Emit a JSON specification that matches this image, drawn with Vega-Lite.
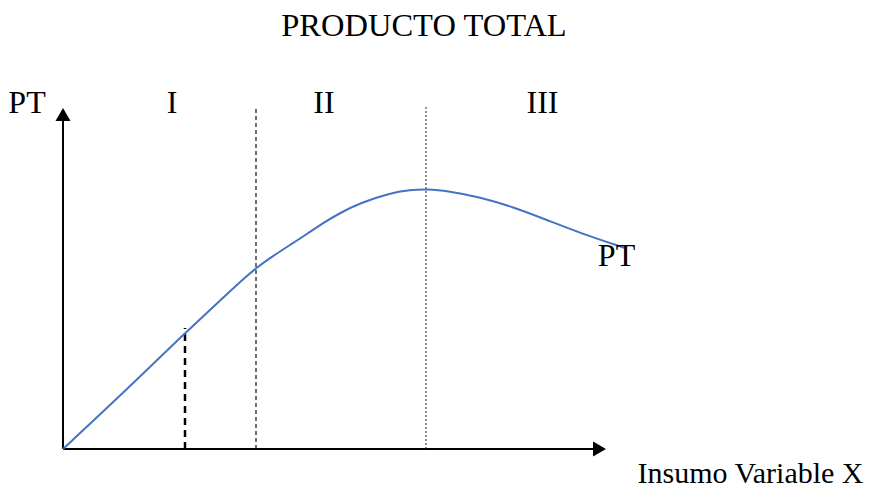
{
  "$schema": "https://vega.github.io/schema/vega-lite/v6.json",
  "width": 882,
  "height": 499,
  "autosize": {"type": "none"},
  "padding": 0,
  "background": "white",
  "config": {"view": {"stroke": null}},
  "encoding": {
    "x": {"field": "x", "type": "quantitative", "scale": {"domain": [-6.3, 81.9], "zero": false, "nice": false}, "axis": null},
    "y": {"field": "y", "type": "quantitative", "scale": {"domain": [-5, 44.9], "zero": false, "nice": false}, "axis": null}
  },
  "layer": [
    {
      "data": {"values": [
        {"x": 0, "y": 0, "x2": 53.65, "y2": 0},
        {"x": 0, "y": 0, "x2": 0, "y2": 33.45}
      ]},
      "mark": {"type": "rule", "color": "black", "strokeWidth": 2},
      "encoding": {"x2": {"field": "x2"}, "y2": {"field": "y2"}}
    },
    {
      "data": {"values": [{"x": 0, "y": 33.45}]},
      "mark": {"type": "point", "shape": "triangle-up", "size": 225, "filled": true, "color": "black", "opacity": 1},
      "encoding": {}
    },
    {
      "data": {"values": [{"x": 53.65, "y": 0}]},
      "mark": {"type": "point", "shape": "triangle-right", "size": 225, "filled": true, "color": "black", "opacity": 1},
      "encoding": {}
    },
    {
      "data": {"values": [{"x": 12.2, "y": 0, "y2": 12.1}]},
      "mark": {"type": "rule", "color": "black", "strokeWidth": 2.5, "strokeDash": [7, 5]},
      "encoding": {"y2": {"field": "y2"}}
    },
    {
      "data": {"values": [{"x": 19.3, "y": 0, "y2": 34.3}]},
      "mark": {"type": "rule", "color": "#222222", "strokeWidth": 1.3, "strokeDash": [4, 3]},
      "encoding": {"y2": {"field": "y2"}}
    },
    {
      "data": {"values": [{"x": 36.3, "y": 0, "y2": 34.3}]},
      "mark": {"type": "rule", "color": "#222222", "strokeWidth": 1, "strokeDash": [2, 2]},
      "encoding": {"y2": {"field": "y2"}}
    },
    {
      "data": {"values": [
        {"x": 0, "y": 0},
        {"x": 5.7, "y": 5.3},
        {"x": 12.2, "y": 11.6},
        {"x": 16.2, "y": 15.3},
        {"x": 17.7, "y": 16.7},
        {"x": 19.3, "y": 18.1},
        {"x": 21.0, "y": 19.3},
        {"x": 22.7, "y": 20.4},
        {"x": 24.4, "y": 21.5},
        {"x": 26.0, "y": 22.6},
        {"x": 27.7, "y": 23.6},
        {"x": 29.7, "y": 24.6},
        {"x": 32.7, "y": 25.6},
        {"x": 34.7, "y": 25.9},
        {"x": 36.4, "y": 26.0},
        {"x": 38.5, "y": 25.8},
        {"x": 41.7, "y": 25.2},
        {"x": 45.0, "y": 24.2},
        {"x": 48.4, "y": 22.9},
        {"x": 51.7, "y": 21.6},
        {"x": 56.2, "y": 20.1}
      ]},
      "mark": {"type": "line", "color": "#4472C4", "strokeWidth": 2, "interpolate": "basis"},
      "encoding": {}
    },
    {
      "data": {"values": [
        {"x": 36.1, "y": 41.3, "label": "PRODUCTO TOTAL"}
      ]},
      "mark": {"type": "text", "font": "Liberation Serif", "fontSize": 32.5, "color": "black", "baseline": "alphabetic", "align": "center"},
      "encoding": {"text": {"field": "label"}}
    },
    {
      "data": {"values": [
        {"x": -3.6, "y": 33.6, "label": "PT"},
        {"x": 10.9, "y": 33.6, "label": "I"},
        {"x": 26.1, "y": 33.6, "label": "II"},
        {"x": 47.95, "y": 33.6, "label": "III"},
        {"x": 55.35, "y": 18.3, "label": "PT"}
      ]},
      "mark": {"type": "text", "font": "Liberation Serif", "fontSize": 32, "color": "black", "baseline": "alphabetic", "align": "center"},
      "encoding": {"text": {"field": "label"}}
    },
    {
      "data": {"values": [
        {"x": 68.75, "y": -3.4, "label": "Insumo Variable X"}
      ]},
      "mark": {"type": "text", "font": "Liberation Serif", "fontSize": 30, "color": "black", "baseline": "alphabetic", "align": "center"},
      "encoding": {"text": {"field": "label"}}
    }
  ]
}
